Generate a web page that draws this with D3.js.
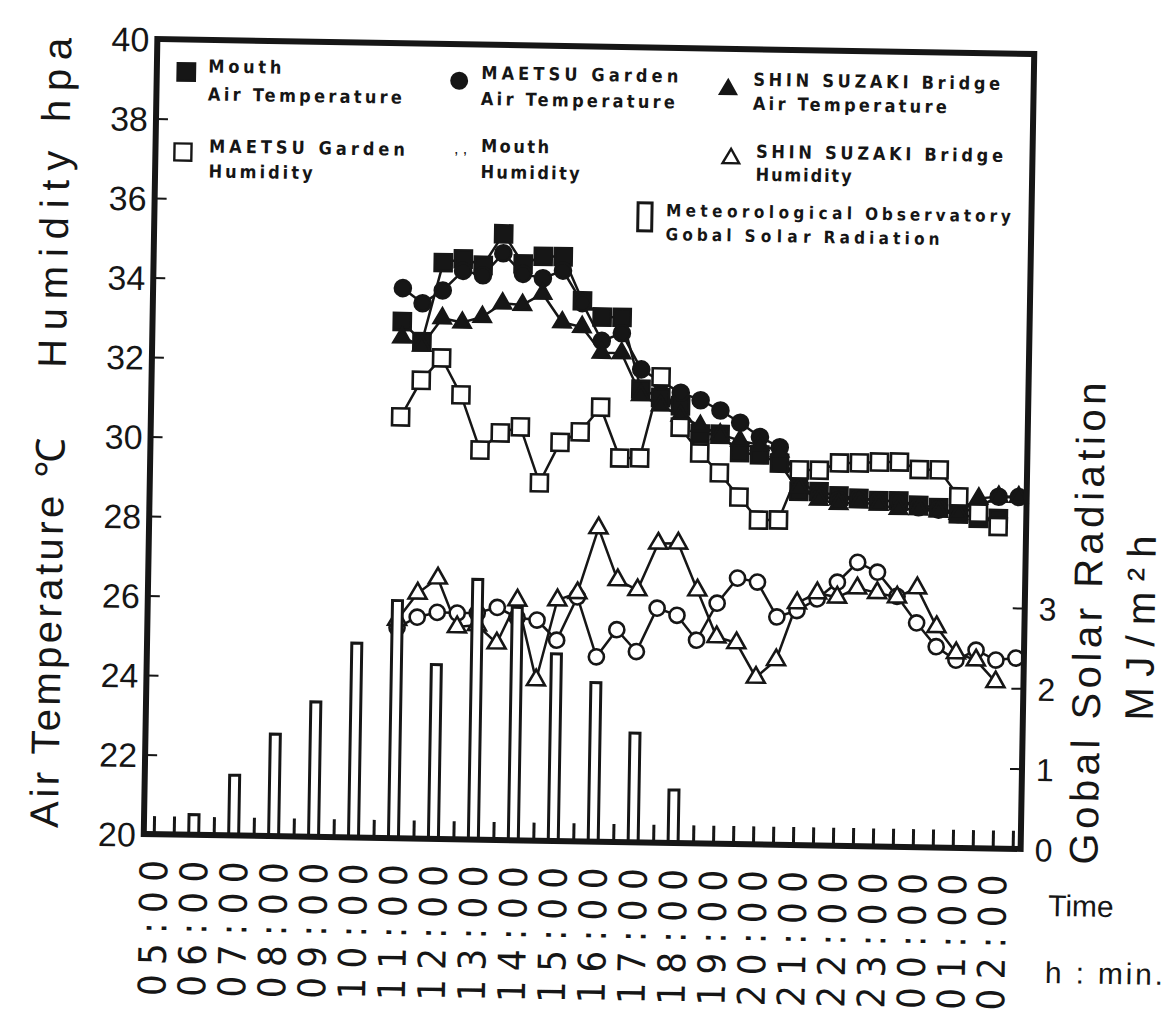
<!DOCTYPE html>
<html><head><meta charset="utf-8">
<script src="https://cdn.jsdelivr.net/npm/d3@7"></script>
<style>
body{margin:0;background:#fff;}
svg{display:block;}
</style></head><body>
<svg id="chart" width="1176" height="1016"></svg>
<script>
// ---------------- data ----------------
const timeLabels = ["05","06","07","08","09","10","11","12","13","14","15","16","17","18","19","20","21","22","23","00","01","02"];
const labelHours = [5,6,7,8,9,10,11,12,13,14,15,16,17,18,19,20,21,22,23,24,25,26];
const radHours = [5,6,7,8,9,10,11,12,13,14,15,16,17,18,19,20,21,22,23,24,25,26];
const radiation = [0,0.25,0.75,1.27,1.68,2.42,2.96,2.17,3.24,2.9,2.33,1.98,1.36,0.66,0,0,0,0,0,0,0,0];
const seriesTimes = [11,11.5,12,12.5,13,13.5,14,14.5,15,15.5,16,16.5,17,17.5,18,18.5,19,19.5,20,20.5,21,21.5,22,22.5,23,23.5,24,24.5,25,25.5,26,26.5];
const mouthTemp  = [33.0,32.5,34.5,34.6,34.45,35.25,34.5,34.7,34.7,33.6,33.2,33.2,31.4,31.2,31.0,30.3,30.3,29.85,29.8,29.6,28.9,28.9,28.8,28.75,28.7,28.7,28.6,28.55,28.4,28.3,28.3,null];
const maetsuTemp = [33.84,33.47,33.8,34.3,34.2,34.76,34.25,34.15,34.35,33.54,32.6,32.8,31.9,31.6,31.33,31.15,30.9,30.6,30.25,30.0,29.2,28.8,28.7,28.75,28.7,28.7,28.55,28.5,28.4,28.6,28.85,28.85];
const shinTemp   = [32.6,32.4,33.1,33.0,33.15,33.5,33.47,33.76,33.05,32.94,32.3,32.3,31.25,31.0,30.75,30.5,30.3,30.15,30.05,29.9,29.0,28.7,28.6,28.65,28.6,28.5,28.5,28.45,28.4,28.8,28.85,28.85];
const maetsuHum  = [30.6,31.53,32.1,31.18,29.8,30.24,30.4,29.0,30.03,30.3,30.93,29.66,29.67,31.72,30.46,29.82,29.33,28.73,28.16,28.17,29.44,29.44,29.63,29.64,29.67,29.68,29.5,29.5,28.83,28.43,28.1,null];
const mouthHum   = [25.3,25.57,25.7,25.69,25.7,25.85,25.6,25.55,25.05,26.15,24.65,25.34,24.8,25.9,25.73,25.11,26.05,26.69,26.6,25.73,25.9,26.2,26.63,27.14,26.9,26.3,25.64,25.05,24.72,24.98,24.74,24.8];
const shinHum    = [25.5,26.17,26.56,25.34,25.4,24.95,26.04,24.04,26.06,26.25,27.89,26.59,26.35,27.53,27.54,26.37,25.2,25.06,24.2,24.65,26.09,26.35,26.25,26.49,26.38,26.28,26.52,25.55,24.9,24.73,24.19,null];
const leftTicks = [20,22,24,26,28,30,32,34,36,38,40];
const rightTicks = [0,1,2,3];

// ---------------- setup ----------------
const FONT = "'Liberation Sans', Arial, Helvetica, sans-serif";
const NARROW = "'Liberation Sans Narrow', 'DejaVu Sans Condensed', 'Liberation Sans', sans-serif";
const INK = "#161616";
const svg = d3.select("#chart");
svg.append("rect").attr("width",1176).attr("height",1016).attr("fill","#fff");
const g = svg.append("g").attr("transform","rotate(0.98,589,444)");
const L=150.5, R=1027.5, T=46.5, B=841.5;
const x = d3.scaleLinear().domain([4.75,26.7]).range([L,R]);
const yT = d3.scaleLinear().domain([20,40]).range([B,T]);
const yR = d3.scaleLinear().domain([0,9.9]).range([B,T]);

// half-hour ticks on the bottom axis (pointing inward)
const halfHours = d3.range(5, 26.51, 0.5);
const bt = g.append("g").attr("transform",`translate(0,${B})`)
  .call(d3.axisBottom(x).tickValues(halfHours).tickSizeInner(-18).tickSizeOuter(0).tickFormat(""));
bt.select(".domain").remove();
bt.selectAll("line").attr("stroke",INK).attr("stroke-width",3);

// time labels
const bl = g.append("g").attr("transform",`translate(0,${B})`)
  .call(d3.axisBottom(x).tickValues(labelHours).tickSize(0).tickFormat((d,i)=>timeLabels[i]+":00"));
bl.select(".domain").remove();
bl.selectAll("text")
  .attr("transform","rotate(-90)")
  .attr("x",-26).attr("y",0).attr("dy","0.36em")
  .attr("text-anchor","end")
  .attr("textLength",136).attr("lengthAdjust","spacing")
  .attr("font-family",NARROW).attr("font-size",38).attr("fill",INK);

// left axis
const la = g.append("g").attr("transform",`translate(${L},0)`)
  .call(d3.axisLeft(yT).tickValues(leftTicks).tickSizeInner(-12).tickSizeOuter(0).tickPadding(8));
la.select(".domain").remove();
la.selectAll("line").attr("stroke",INK).attr("stroke-width",2);
la.selectAll("text").attr("font-family",FONT).attr("font-size",34).attr("fill",INK).attr("dy","0.36em");

// right axis
const ra = g.append("g").attr("transform",`translate(${R},0)`)
  .call(d3.axisRight(yR).tickValues(rightTicks).tickSizeInner(-12).tickSizeOuter(0).tickPadding(14));
ra.select(".domain").remove();
ra.selectAll("line").attr("stroke",INK).attr("stroke-width",2);
ra.selectAll("text").attr("font-family",FONT).attr("font-size",32).attr("fill",INK).attr("dy","0.36em");

// ---------------- series ----------------
function pts(vals){ return seriesTimes.map((t,i)=>({t:t, v:vals[i]})).filter(d=>d.v!=null); }
const line = d3.line().x(d=>x(d.t)).y(d=>yT(d.v));
const series = [
  {vals:mouthTemp,  sym:d3.symbolSquare,   size:289, fill:INK},
  {vals:maetsuTemp, sym:d3.symbolCircle,   size:201, fill:INK},
  {vals:shinTemp,   sym:d3.symbolTriangle, size:125, fill:INK},
  {vals:maetsuHum,  sym:d3.symbolSquare,   size:289, fill:"#fff"},
  {vals:mouthHum,   sym:d3.symbolCircle,   size:180, fill:"#fff"},
  {vals:shinHum,    sym:d3.symbolTriangle, size:140, fill:"#fff"}
];
series.forEach(s=>{
  g.append("path").datum(pts(s.vals)).attr("d",line)
    .attr("fill","none").attr("stroke",INK).attr("stroke-width",2.5);
});
series.forEach(s=>{
  g.append("g").selectAll("path").data(pts(s.vals)).join("path")
    .attr("transform",d=>`translate(${x(d.t)},${yT(d.v)})`)
    .attr("d",d3.symbol().type(s.sym).size(s.size))
    .attr("fill",s.fill).attr("stroke",INK).attr("stroke-width",2.6);
});

// radiation bars (drawn over)
const radData = radHours.map((h,i)=>({h:h, v:radiation[i]})).filter(d=>d.v>0);
g.append("g").selectAll("rect").data(radData).join("rect")
  .attr("x",d=>x(d.h)-5).attr("width",10)
  .attr("y",d=>yR(d.v)).attr("height",d=>B-yR(d.v))
  .attr("fill","#fff").attr("stroke",INK).attr("stroke-width",3);

// frame
g.append("rect").attr("x",L).attr("y",T).attr("width",R-L).attr("height",B-T)
  .attr("fill","none").attr("stroke",INK).attr("stroke-width",6);

// ---------------- titles ----------------
function vtext(cx, yStart, str, len, size){
  g.append("text").attr("transform",`translate(${cx},${yStart}) rotate(-90)`)
    .attr("dy","0.36em").attr("font-family",FONT).attr("font-size",size).attr("fill",INK)
    .attr("textLength",len).attr("lengthAdjust","spacing").text(str);
}
vtext(50, 837, "Air Temperature \u2103", 390, 40);
vtext(50, 377, "Humidity  hpa", 330, 40);
vtext(1090, 856, "Gobal Solar Radiation", 482, 40);
vtext(1143, 711, "MJ/m\u00B2h", 185, 40);
g.append("text").attr("x",1056).attr("y",908).attr("font-family",FONT).attr("font-size",30).attr("fill",INK).text("Time");
g.append("text").attr("x",1054).attr("y",975).attr("font-family",FONT).attr("font-size",30).attr("fill",INK)
  .attr("textLength",118).attr("lengthAdjust","spacing").text("h : min.");

// ---------------- legend ----------------
function ltext(x0, y0, str, len, fs){
  g.append("text").attr("x",x0).attr("y",y0).attr("font-family",NARROW).attr("font-weight","bold")
    .attr("font-size",fs||18).attr("fill",INK).attr("textLength",len).attr("lengthAdjust","spacing").text(str);
}
function lsym(cx, cy, sym, size, fill){
  g.append("path").attr("transform",`translate(${cx},${cy})`).attr("d",d3.symbol().type(sym).size(size))
    .attr("fill",fill).attr("stroke",INK).attr("stroke-width",2.4);
}
lsym(180,79,d3.symbolSquare,300,INK);
ltext(202,79,"Mouth",73); ltext(202,107,"Air Temperature",194);
lsym(453,83,d3.symbolCircle,190,INK);
ltext(475,81,"MAETSU Garden",197); ltext(475,107,"Air Temperature",194);
lsym(722,87,d3.symbolTriangle,110,INK);
ltext(747,83,"SHIN SUZAKI Bridge",247); ltext(747,107,"Air Temperature",194);
lsym(178,159,d3.symbolSquare,289,"#fff");
ltext(204,159,"MAETSU Garden",196); ltext(204,184,"Humidity",104);
g.append("text").attr("x",449).attr("y",156).attr("font-family",FONT).attr("font-size",16).attr("fill",INK).text(", ,");
ltext(476,154,"Mouth",68); ltext(476,180,"Humidity",99);
lsym(726,156,d3.symbolTriangle,120,"#fff");
ltext(751,155,"SHIN SUZAKI Bridge",247); ltext(751,178,"Humidity",96);
g.append("rect").attr("x",634).attr("y",202).attr("width",14).attr("height",28)
  .attr("fill","#fff").attr("stroke",INK).attr("stroke-width",3);
ltext(662,215,"Meteorological",186,17); ltext(861,215,"Observatory",146,17);
ltext(662,239,"Gobal",66,17); ltext(741,239,"Solar",66,17); ltext(820,239,"Radiation",116,17);
</script>
</body></html>
